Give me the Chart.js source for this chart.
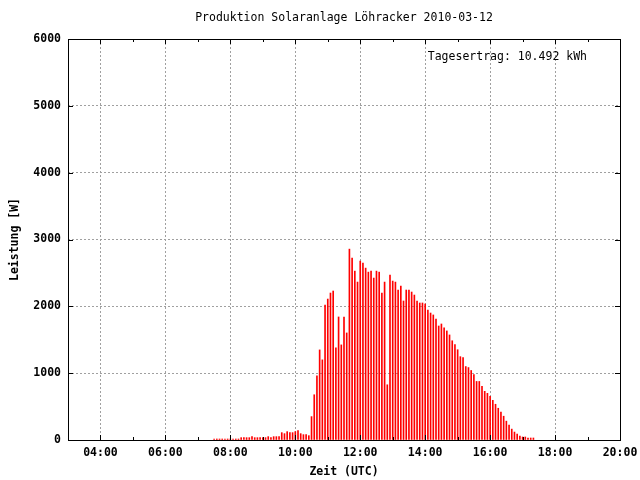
<!DOCTYPE html>
<html lang="de">
<head>
<meta charset="utf-8">
<title>Produktion Solaranlage Löhracker 2010-03-12</title>
<script src="https://cdn.jsdelivr.net/npm/chart.js@4/dist/chart.umd.min.js"></script>
<style>
    html, body { margin: 0; padding: 0; background: #fff; }
    #wrap { width: 640px; height: 480px; }
</style>
</head>
<body>
<div id="wrap"><canvas id="graficoLeistung"></canvas></div>
<script>
// Messzeitpunkte (UTC), alle 5 Minuten
const zeiten = [
    '07:30', '07:35', '07:40', '07:45', '07:50', '07:55',
    '08:00', '08:05', '08:10', '08:15', '08:20', '08:25', '08:30', '08:35', '08:40', '08:45', '08:50', '08:55',
    '09:00', '09:05', '09:10', '09:15', '09:20', '09:25', '09:30', '09:35', '09:40', '09:45', '09:50', '09:55',
    '10:00', '10:05', '10:10', '10:15', '10:20', '10:25', '10:30', '10:35', '10:40', '10:45', '10:50', '10:55',
    '11:00', '11:05', '11:10', '11:15', '11:20', '11:25', '11:30', '11:35', '11:40', '11:45', '11:50', '11:55',
    '12:00', '12:05', '12:10', '12:15', '12:20', '12:25', '12:30', '12:35', '12:40', '12:45', '12:50', '12:55',
    '13:00', '13:05', '13:10', '13:15', '13:20', '13:25', '13:30', '13:35', '13:40', '13:45', '13:50', '13:55',
    '14:00', '14:05', '14:10', '14:15', '14:20', '14:25', '14:30', '14:35', '14:40', '14:45', '14:50', '14:55',
    '15:00', '15:05', '15:10', '15:15', '15:20', '15:25', '15:30', '15:35', '15:40', '15:45', '15:50', '15:55',
    '16:00', '16:05', '16:10', '16:15', '16:20', '16:25', '16:30', '16:35', '16:40', '16:45', '16:50', '16:55',
    '17:00', '17:05', '17:10', '17:15', '17:20'
];

// Leistung in W
const leistung = [
    15, 15, 15, 15, 15, 15,
    15, 15, 15, 15, 35, 35, 35, 35, 50, 35, 35, 35,
    35, 35, 50, 35, 50, 50, 50, 110, 95, 125, 110, 110,
    125, 140, 95, 80, 80, 65, 350, 677, 960, 1348, 1199, 2020,
    2109, 2199, 2229, 1378, 1841, 1423, 1841, 1602, 2856, 2721, 2527, 2363,
    2677, 2647, 2572, 2512, 2527, 2423, 2527, 2512, 2199, 2363, 826, 2468,
    2378, 2363, 2244, 2303, 2080, 2244, 2244, 2214, 2169, 2080, 2050, 2050,
    2035, 1945, 1900, 1871, 1811, 1706, 1736, 1677, 1632, 1572, 1485, 1426,
    1351, 1247, 1232, 1099, 1084, 1040, 980, 876, 876, 802, 728, 698,
    653, 594, 535, 475, 416, 356, 282, 223, 163, 119, 89, 59,
    45, 45, 30, 30, 30
];

const stundenMin = 3;
const stundenMax = 20;
const leistungMax = 6000;
const titel = 'Produktion Solaranlage Löhracker 2010-03-12';
const tagesertrag = 'Tagesertrag: 10.492 kWh';

const schrift = "'DejaVu Sans Mono', 'Liberation Mono', monospace";
const gitterFarbe = '#a0a0a0';

// "HH:MM" -> Dezimalstunden
function inStunden(zeit) {
    const [h, m] = zeit.split(':').map(Number);
    return h + m / 60;
}

function zweistellig(n) {
    return (n < 10 ? '0' : '') + n;
}

// Rahmen, Ticks nach innen (wie gnuplot), Titel und Tagesertrag
const rahmenPlugin = {
    id: 'rahmen',
    afterDraw(chart) {
        const { ctx, chartArea: a, scales } = chart;
        ctx.save();
        ctx.strokeStyle = '#000';
        ctx.lineWidth = 1;

        ctx.beginPath();
        scales.x.ticks.forEach(t => {
            const px = Math.round(scales.x.getPixelForValue(t.value)) + 0.5;
            const len = t.value % 2 === 0 ? 5 : 3;
            ctx.moveTo(px, a.bottom);
            ctx.lineTo(px, a.bottom - len);
            ctx.moveTo(px, a.top);
            ctx.lineTo(px, a.top + len);
        });
        scales.y.ticks.forEach(t => {
            const py = Math.round(scales.y.getPixelForValue(t.value)) + 0.5;
            ctx.moveTo(a.left, py);
            ctx.lineTo(a.left + 5, py);
            ctx.moveTo(a.right, py);
            ctx.lineTo(a.right - 5, py);
        });
        ctx.stroke();

        ctx.strokeRect(Math.round(a.left) + 0.5, Math.round(a.top) + 0.5,
            Math.round(a.right - a.left), Math.round(a.bottom - a.top));

        ctx.fillStyle = '#000';
        ctx.font = '11.5px ' + schrift;
        ctx.textBaseline = 'middle';
        ctx.textAlign = 'center';
        ctx.fillText(titel, (a.left + a.right) / 2, 18);
        ctx.textAlign = 'right';
        ctx.fillText(tagesertrag, a.right - 33, a.top + 18);
        ctx.restore();
    }
};

const ctx = document.getElementById('graficoLeistung');

new Chart(ctx, {
    type: 'bar',
    data: {
        datasets: [{
            label: 'Leistung',
            data: zeiten.map((z, i) => ({ x: inStunden(z), y: leistung[i] })),
            backgroundColor: '#ff0000',
            borderWidth: 0,
            barThickness: 1,
            grouped: false
        }]
    },
    options: {
        responsive: true,
        maintainAspectRatio: false,
        animation: false,
        layout: { padding: { left: 0, right: 20, top: 39, bottom: 0 } },
        plugins: {
            legend: { display: false },
            tooltip: { enabled: false },
            title: { display: false }
        },
        scales: {
            x: {
                type: 'linear',
                min: stundenMin,
                max: stundenMax,
                offset: false,
                afterFit: scale => { scale.height = 40; scale.paddingLeft = 0; scale.paddingRight = 0; },
                ticks: {
                    stepSize: 1,
                    autoSkip: false,
                    maxRotation: 0,
                    padding: 6,
                    color: '#000',
                    font: { family: schrift, size: 11.5, weight: 'bold' },
                    callback: v => (v % 2 === 0 ? zweistellig(v) + ':00' : '')
                },
                grid: {
                    offset: false,
                    drawTicks: false,
                    lineWidth: 1,
                    color: c => {
                        const v = c.tick ? c.tick.value : 0;
                        return (v % 2 === 0 && v > stundenMin && v < stundenMax) ? gitterFarbe : 'rgba(0,0,0,0)';
                    }
                },
                border: { display: false, dash: [2, 2] },
                title: {
                    display: true,
                    text: 'Zeit (UTC)',
                    color: '#000',
                    font: { family: schrift, size: 11.5, weight: 'bold', lineHeight: 1 },
                    padding: { top: 0, bottom: 2 }
                }
            },
            y: {
                min: 0,
                max: leistungMax,
                afterFit: scale => { scale.width = 68; scale.paddingTop = 0; scale.paddingBottom = 0; },
                ticks: {
                    stepSize: 1000,
                    padding: 7,
                    color: '#000',
                    font: { family: schrift, size: 11.5, weight: 'bold' },
                    callback: v => String(v)
                },
                grid: {
                    offset: false,
                    drawTicks: false,
                    lineWidth: 1,
                    color: c => {
                        const v = c.tick ? c.tick.value : 0;
                        return (v > 0 && v < leistungMax) ? gitterFarbe : 'rgba(0,0,0,0)';
                    }
                },
                border: { display: false, dash: [2, 2] },
                title: {
                    display: true,
                    text: 'Leistung [W]',
                    color: '#000',
                    font: { family: schrift, size: 11.5, weight: 'bold', lineHeight: 1 },
                    padding: { top: 9, bottom: 0 }
                }
            }
        }
    },
    plugins: [rahmenPlugin]
});
</script>
</body>
</html>
